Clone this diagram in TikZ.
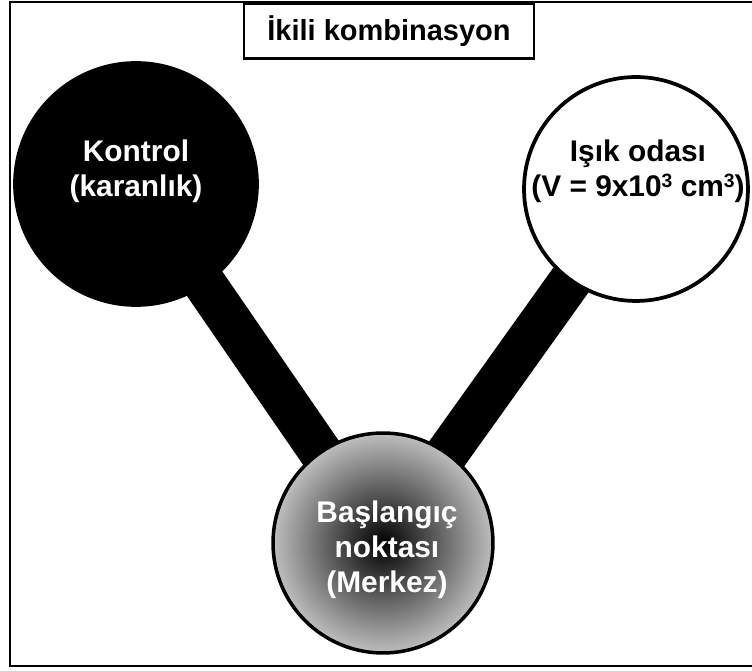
\documentclass[tikz,border=0pt]{standalone}
\usepackage{fontspec}
\setmainfont{Liberation Sans}
\usetikzlibrary{positioning}
\usepackage{xcolor}
\definecolor{rmblack}{RGB}{0,0,0}
\definecolor{rmedge}{RGB}{190,190,190}
\newcommand{\cubed}{\raisebox{0.3em}{\fontsize{11}{11}\selectfont 3}}
\tikzset{
    room/.style={
        circle,draw=rmblack,line width=0.075cm,inner sep=0pt
    },
    roomtext/.style={
        align=center,text=#1,font=\fontsize{17}{20}\selectfont\bfseries
    },
    roomtext/.default=rmblack,
    corridor/.style={
        line width=0.86cm,draw=rmblack
    },
    titlebox/.style={
        draw=rmblack,line width=0.05cm,fill=white,
        minimum width=5.8cm,minimum height=1.1cm,
        font=\fontsize{16.5}{20}\selectfont\bfseries
    }
}
\begin{document}
\begin{tikzpicture}[x=0.02cm,y=-0.02cm]
\useasboundingbox (0,0) rectangle (752,671);
\draw[line width=0.04cm] (10,2) rectangle (770,666);

% corridors first, rooms on top
\coordinate (kc) at (136,184);
\coordinate (ic) at (636,189);
\coordinate (bc) at (383,543);
\draw[corridor] (kc) -- (bc);
\draw[corridor] (ic) -- (bc);

\node[room,fill=rmblack,minimum size=4.84cm] (k) at (kc) {};
\node[room,fill=white,minimum size=4.48cm] (i) at (ic) {};
\node[room,line width=0.07cm,inner color=rmblack,outer color=rmedge,
minimum size=4.4cm] (b) at (bc) {};

\node[roomtext=white] (kt) at (136,171) {Kontrol\\(karanlık)};
\node[roomtext] (it) at (638,171) {Işık odası\\(V = 9x10\cubed{} cm\cubed)};
\node[roomtext=white] (bt) at (387,550) {Başlangıç\\noktası\\(Merkez)};

\node[titlebox] (t) at (389,31) {İkili kombinasyon};

\end{tikzpicture}
\end{document}
